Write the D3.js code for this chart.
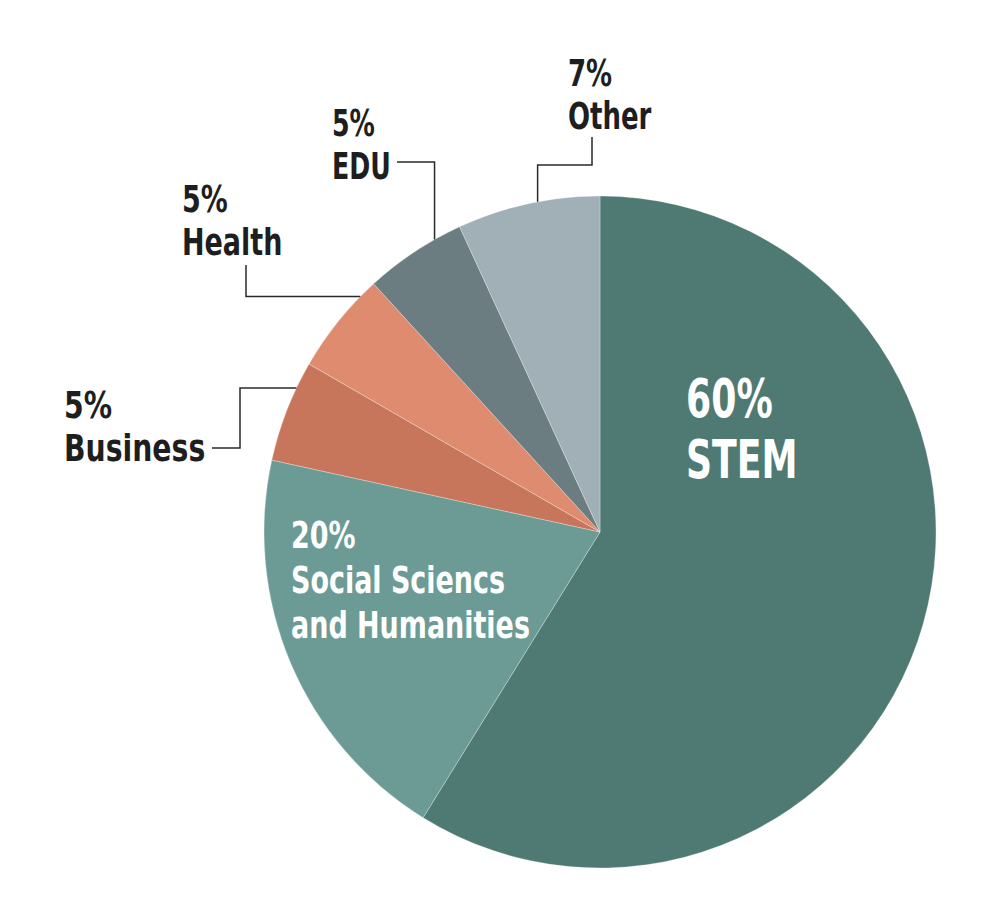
<!DOCTYPE html>
<html>
<head>
<meta charset="utf-8">
<script src="https://cdn.jsdelivr.net/npm/d3@7"></script>
<style>
  html, body { margin: 0; padding: 0; background: #ffffff; }
  svg { display: block; }
  text { font-family: "Liberation Sans Narrow", "DejaVu Sans Condensed", "Arial Narrow", sans-serif; font-weight: bold; }
</style>
</head>
<body>
<svg id="chart" width="1000" height="909"></svg>
<script>
// ---- Data ----
const categories = ["STEM", "Social Sciencs and Humanities", "Business", "Health", "EDU", "Other"];
const values = [60, 20, 5, 5, 5, 7];
const percentLabels = ["60%", "20%", "5%", "5%", "5%", "7%"];
const nameLines = [["STEM"], ["Social Sciencs", "and Humanities"], ["Business"], ["Health"], ["EDU"], ["Other"]];
const colors = ["#4f7a73", "#6c9b96", "#c8765b", "#df8b70", "#6c7d82", "#a0b0b6"];

// ---- Layout ----
const W = 1000, H = 909;
const cx = 600, cy = 532, R = 336;

// inside labels: x, first baseline, font size, line height, horizontal squeeze
const insideLayout = {
  0: { x: 686, y: 417, size: 53, lh: 61, sq: 0.76 },
  1: { x: 291, y: 548, size: 37, lh: 45, sq: 0.81 }
};
// outside labels: label x, first baseline; anchor angle (deg, clockwise from top); leader path
const outsideLayout = {
  2: { x: 64,  y: 418, sq: 0.85, angle: 295.4, path: [["h", 240], ["v", 448], ["h", 212]] },
  3: { x: 182, y: 212, sq: 0.81, angle: 314.5, path: [["h", 246], ["v", 265]] },
  4: { x: 332, y: 136, sq: 0.76, angle: 330.5, path: [["v", 162], ["h", 397]] },
  5: { x: 568, y: 86,  sq: 0.78, angle: 349.3, path: [["v", 165], ["h", 592], ["v", 137]] }
};
const outsideSize = 37, outsideLH = 43;

const svg = d3.select("#chart");

const pie = d3.pie().sort(null).value(d => d.value);
const data = categories.map((c, i) => ({ name: c, value: values[i], i }));
const arcs = pie(data);
const arc = d3.arc().innerRadius(0).outerRadius(R);

const g = svg.append("g").attr("transform", `translate(${cx},${cy})`);
g.selectAll("path.slice")
  .data(arcs)
  .join("path")
  .attr("class", "slice")
  .attr("d", arc)
  .attr("fill", d => colors[d.data.i])
  .attr("stroke", "rgba(255,255,255,0.35)")
  .attr("stroke-width", 0.8);

// leader lines
Object.entries(outsideLayout).forEach(([k, L]) => {
  const a = L.angle * Math.PI / 180;
  let x = cx + R * Math.sin(a), y = cy - R * Math.cos(a);
  const pts = [[x, y]];
  L.path.forEach(([dir, v]) => {
    if (dir === "h") x = v; else y = v;
    pts.push([x, y]);
  });
  svg.append("path")
    .attr("d", d3.line()(pts))
    .attr("fill", "none")
    .attr("stroke", "#2a2a2a")
    .attr("stroke-width", 1.5);
});

function drawLabel(x, y, lines, size, lh, fill, sq) {
  const t = svg.append("g").attr("transform", `translate(${x},${y}) scale(${sq},1)`);
  lines.forEach((ln, j) => {
    t.append("text")
      .attr("x", 0)
      .attr("y", j * lh)
      .attr("font-size", size)
      .attr("fill", fill)
      .text(ln);
  });
}

arcs.forEach(d => {
  const i = d.data.i;
  const lines = [percentLabels[i], ...nameLines[i]];
  if (insideLayout[i]) {
    const L = insideLayout[i];
    drawLabel(L.x, L.y, lines, L.size, L.lh, "#ffffff", L.sq);
  } else if (outsideLayout[i]) {
    const L = outsideLayout[i];
    drawLabel(L.x, L.y, lines, outsideSize, outsideLH, "#1e1e1e", L.sq);
  }
});
</script>
</body>
</html>
